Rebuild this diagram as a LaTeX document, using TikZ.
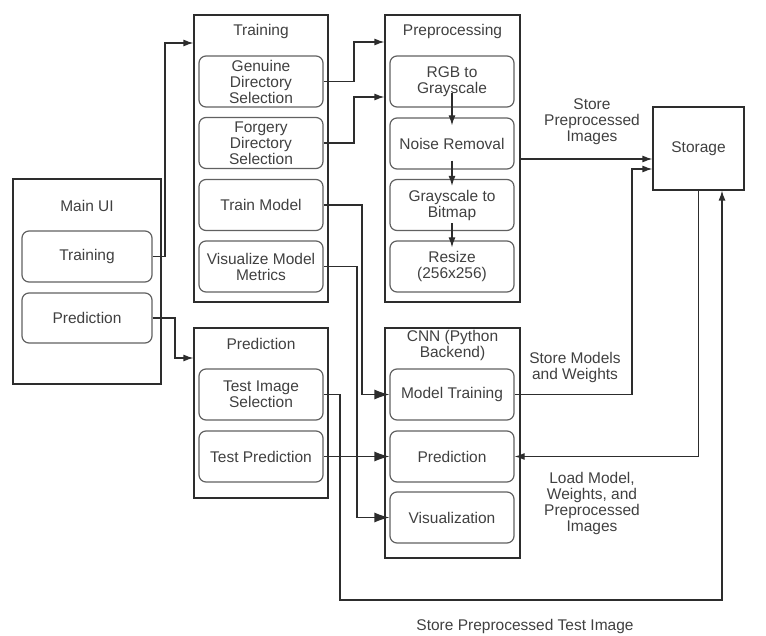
\documentclass[tikz,border=0pt]{standalone}
\usepackage{fontspec}
\setmainfont{Liberation Sans}
\usetikzlibrary{arrows.meta}
\definecolor{txtc}{RGB}{64,64,64}
\definecolor{linec}{RGB}{45,45,45}
\tikzset{
  grp/.style={draw=linec, line width=1.2pt, rectangle, inner sep=0pt},
  sub/.style={draw=linec!75, line width=1.2pt, rectangle, rounded corners=7pt, minimum width=124pt, minimum height=51pt, inner sep=0pt, align=center, text=txtc, font=\fontsize{15.5}{16}\selectfont},
  lbl/.style={align=center, text=txtc, font=\fontsize{15.5}{16}\selectfont, inner sep=0pt},
  conn/.style={draw=linec, line width=1.2pt},
  arr/.style={conn, -{Latex[length=10pt,width=7pt]}},
  bigarr/.style={conn, -{Latex[length=15pt,width=10pt]}},
}
\begin{document}
\begin{tikzpicture}[x=1pt,y=-1pt]
\useasboundingbox (0,0) rectangle (766,636);
% Main UI
\node[grp, minimum width=148pt, minimum height=205pt] (mui) at (87,281.5) {};
\node[lbl] (muil) at (87,206) {Main UI};
\node[sub, minimum width=130pt] (mTrain) at (87,256.5) {Training};
\node[sub, minimum width=130pt, minimum height=50pt] (mPred) at (87,318) {Prediction};
% Training group
\node[grp, minimum width=134pt, minimum height=287pt] (trg) at (261,158.5) {};
\node[lbl] (trgl) at (261,31) {Training};
\node[sub] (sGen) at (261,81.5) {Genuine\\Directory\\Selection};
\node[sub] (sFor) at (261,143) {Forgery\\Directory\\Selection};
\node[sub] (sTM) at (261,205) {Train Model};
\node[sub] (sViz) at (261,266.5) {Visualize Model\\Metrics};
% Prediction group
\node[grp, minimum width=134pt, minimum height=170pt] (prg) at (261,413) {};
\node[lbl] (prgl) at (261,344) {Prediction};
\node[sub] (tImg) at (261,394.5) {Test Image\\Selection};
\node[sub] (tPred) at (261,456.5) {Test Prediction};
% Preprocessing
\node[grp, minimum width=135pt, minimum height=287pt] (pre) at (452.5,158.5) {};
\node[lbl] (prel) at (452.5,31) {Preprocessing};
\node[sub] (rgb) at (452,81.5) {RGB to\\Grayscale};
\node[sub] (noise) at (452,143.5) {Noise Removal};
\node[sub] (g2b) at (452,205) {Grayscale to\\Bitmap};
\node[sub] (rsz) at (452,266.5) {Resize\\(256x256)};
% CNN
\node[grp, minimum width=135pt, minimum height=230pt] (cnn) at (452.5,443) {};
\node[lbl] (cnnl) at (452.5,345.5) {CNN (Python\\Backend)};
\node[sub] (cTrain) at (452,394.5) {Model Training};
\node[sub] (cPred) at (452,456.5) {Prediction};
\node[sub] (cVis) at (452,517.5) {Visualization};
% Storage
\node[grp, minimum width=91pt, minimum height=83pt, text=txtc, font=\fontsize{15.5}{16}\selectfont] (stor) at (698.5,148.5) {Storage};
% Labels
\node[lbl] (l1) at (592,122) {Store\\Preprocessed\\Images};
\node[lbl] (l2) at (575,367.5) {Store Models\\and Weights};
\node[lbl] (l3) at (592,503) {Load Model,\\Weights, and\\Preprocessed\\Images};
\node[lbl] (l4) at (525,626) {Store Preprocessed Test Image};
% Connectors
\draw[arr] (mTrain.east) -- (165,256.5) |- (trg.west |- 0,43);
\draw[arr] (mPred.east) -- (175,318) |- (prg.west |- 0,358);
\draw[arr] (sGen.east) -- (354,81.5) |- (pre.west |- 0,42);
\draw[arr] (sFor.east) -- (354,143) |- (pre.west |- 0,97);
\draw[bigarr] (sTM.east) -- (362,205) |- (cTrain.west);
\draw[bigarr] (sViz.east) -- (357,266.5) |- (cVis.west);
\draw[bigarr] (tPred.east) -- (cPred.west);
\draw[arr] (tImg.east) -- (340,394.5) -- (340,600) -- (722,600) -- (722,0 |- stor.south);
\draw[arr] (pre.east |- 0,159) -- (stor.west |- 0,159);
\draw[arr] (cTrain.east) -- (632,394.5) -- (632,169) -- (stor.west |- 0,169);
\draw[arr] (stor.south) |- (cPred.east);
\draw[arr] ([yshift=15pt]rgb.south) -- ([yshift=-8pt]noise.north);
\draw[arr] ([yshift=9pt]noise.south) -- ([yshift=-7pt]g2b.north);
\draw[arr] ([yshift=8pt]g2b.south) -- ([yshift=-7pt]rsz.north);
\end{tikzpicture}
\end{document}
